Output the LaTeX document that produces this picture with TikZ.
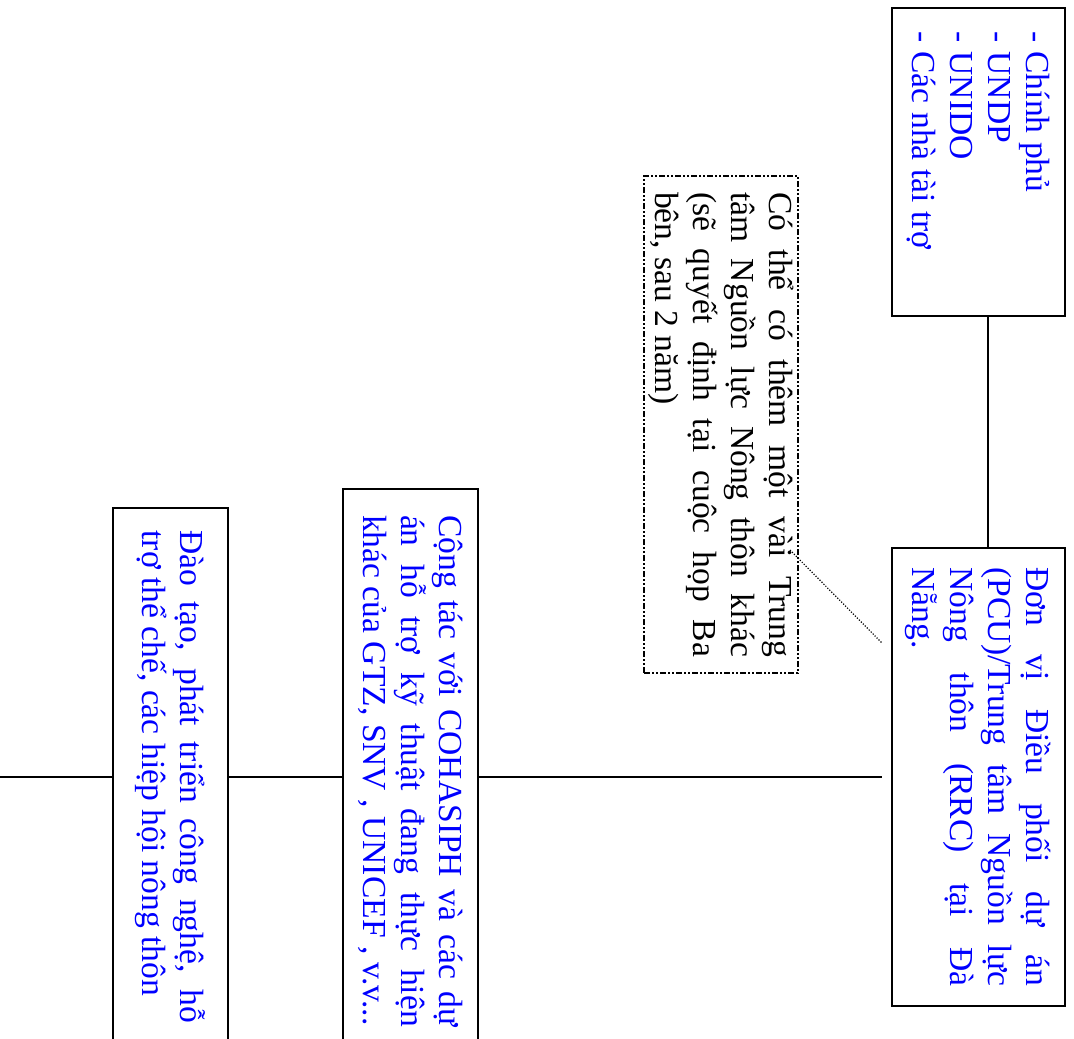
\documentclass[tikz,border=0pt]{standalone}
\usepackage{fontspec}
\setmainfont{Liberation Serif}
\usepackage{graphicx}
\newcommand\dfont{\fontsize{16.8}{19}\selectfont}
\newcommand\jline[1]{\makebox[\linewidth][s]{#1}\\}
\newcommand\vtext[2]{\rotatebox{-90}{\parbox{#1}{#2}}}
\begin{document}
\begin{tikzpicture}[x=0.5pt,y=-0.5pt,
  box/.style={draw, line width=0.7pt, inner sep=0pt, text=blue, font=\dfont},
  notebox/.style={draw, line width=1pt, inner sep=0pt, text=black, font=\dfont,
    dash pattern=on 3pt off 1pt on 1pt off 1pt on 1pt off 1pt},
  link/.style={line width=0.7pt},
  dotlink/.style={line width=0.6pt, dash pattern=on 0.6pt off 0.8pt}]
\useasboundingbox (0,0) rectangle (1074,1038);
\fill[white] (0,0) rectangle (1074,1038);

\node[box, minimum width=86.5pt, minimum height=154pt] (A) at (978.5,162)
  {\vtext{130pt}{\raggedright - Chính phủ\\ - UNDP\\ - UNIDO\\ - Các nhà tài trợ}};

\node[box, minimum width=86.5pt, minimum height=229pt] (B) at (978.5,777)
  {\vtext{209.5pt}{\jline{Đơn vị Điều phối dự án}\jline{(PCU)/Trung tâm Nguồn lực}\jline{Nông thôn (RRC) tại Đà}Nẵng.}};

\node[notebox, minimum width=77pt, minimum height=248.5pt] (C) at (721,424.5)
  {\vtext{232.5pt}{\jline{Có thể có thêm một vài Trung}\jline{tâm Nguồn lực Nông thôn khác}\jline{(sẽ quyết định tại cuộc họp Ba}bên, sau 2 năm)}};

\node[box, minimum width=67.5pt, minimum height=282pt] (D) at (410.5,771)
  {\vtext{256pt}{\jline{Cộng tác với COHASIPH và các dự}\jline{án hỗ trợ kỹ thuật đang thực hiện}khác của GTZ, SNV , UNICEF , v.v...}};

\node[box, minimum width=57.5pt, minimum height=269pt] (E) at (170.5,777)
  {\vtext{246.5pt}{\jline{Đào tạo, phát triển công nghệ, hỗ}trợ thể chế, các hiệp hội nông thôn}};

\coordinate (L0) at (0,777);
\coordinate (L1) at (882,777);
\coordinate (AX) at (988,0);
\coordinate (N0) at (790,550);
\coordinate (N1) at (882,643);

\draw[link] (L0) -- (E.west);
\draw[link] (E.east) -- (E.east -| D.west);
\draw[link] (D.east |- L1) -- (L1);
\draw[link] (A.south -| AX) -- (B.north -| AX);
\draw[dotlink] (N0) -- (N1);
\end{tikzpicture}
\end{document}
